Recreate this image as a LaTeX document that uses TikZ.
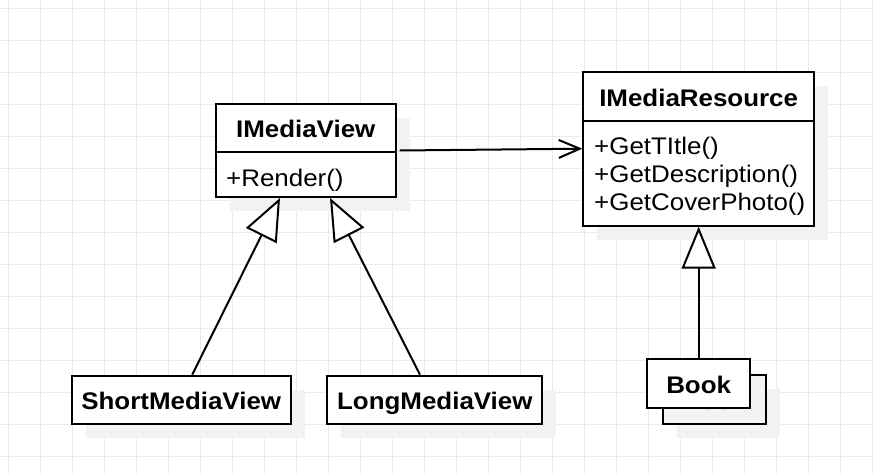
\documentclass[tikz,border=0pt]{standalone}
\usepackage{fontspec}
\setmainfont{Liberation Sans}[FakeStretch=1.08]
\usetikzlibrary{arrows.meta,shadows}
\definecolor{gridc}{HTML}{EBEBEB}
\definecolor{shadc}{HTML}{F2F2F2}
\definecolor{ghostc}{HTML}{333333}
\begin{document}
\begin{tikzpicture}[x=1pt,y=-1pt,
  box/.style={draw, line width=2pt, fill=white, inner sep=0pt,
    general shadow={fill=shadc, shadow xshift=14pt, shadow yshift=-14pt}},
  plainbox/.style={draw, line width=2pt, fill=white, inner sep=0pt},
  ttl/.style={font=\bfseries\fontsize{24}{28}\selectfont, inner sep=0pt, anchor=base},
  mem/.style={font=\fontsize{24}{28}\selectfont, inner sep=0pt, anchor=base west},
  inh/.style={line width=2pt, -{Triangle[length=42pt,width=34pt,fill=white,line join=miter]}},
  assoc/.style={line width=2pt, -{Straight Barb[length=21pt,width=18pt]}}]

\useasboundingbox (0,0) rectangle (874,474);
\fill[white] (0,0) rectangle (874,474);
\foreach \x in {8,40,...,872} \draw[gridc, line width=1pt] (\x,0) -- (\x,474);
\foreach \y in {8,40,...,456} \draw[gridc, line width=1pt] (0,\y) -- (874,\y);

% IMediaView
\node[box, minimum width=180pt, minimum height=93pt] (imv) at (305.7,150.5) {};
\draw[line width=2pt] (imv.north west) ++(0,49.3) -- ++(180,0);
\node[ttl] (imvt) at (305.7,137.7) {IMediaView};
\node[mem] (imvm) at (226,186) {+Render()};

% IMediaResource
\node[box, minimum width=230.7pt, minimum height=154pt] (imr) at (698.65,148.7) {};
\draw[line width=2pt] (imr.north west) ++(0,50) -- ++(230.7,0);
\node[ttl] (imrt) at (698.65,106) {IMediaResource};
\node[mem] (imr1) at (594,154) {+GetTItle()};
\node[mem] (imr2) at (594,182.3) {+GetDescription()};
\node[mem] (imr3) at (594,210.7) {+GetCoverPhoto()};

% ShortMediaView / LongMediaView
\node[box, minimum width=219pt, minimum height=48pt] (smv) at (181.2,399.7) {};
\node[ttl] (smvt) at (181.2,409.3) {ShortMediaView};
\node[box, minimum width=215pt, minimum height=48pt] (lmv) at (434.8,399.7) {};
\node[ttl] (lmvt) at (434.8,409.3) {LongMediaView};

% Book (back and front)
\node[box, fill=shadc, minimum width=102.7pt, minimum height=48.7pt] (bookb) at (714.65,399.65) {};
\node[ttl, text=ghostc] (bookbt) at (714.65,409.3) {Book};
\node[plainbox, minimum width=102.7pt, minimum height=48.7pt] (bookf) at (698.65,383.65) {};
\node[ttl] (bookft) at (698.65,393.3) {Book};

% connectors
\draw[assoc] ([xshift=3pt]imv.east) -- (imr.west);
\draw[inh] ([xshift=11pt]smv.north) -- ([xshift=-25.7pt]imv.south);
\draw[inh] ([xshift=-14.8pt]lmv.north) -- ([xshift=24.3pt]imv.south);
\draw[inh] (bookf.north) -- (imr.south);
\end{tikzpicture}
\end{document}
